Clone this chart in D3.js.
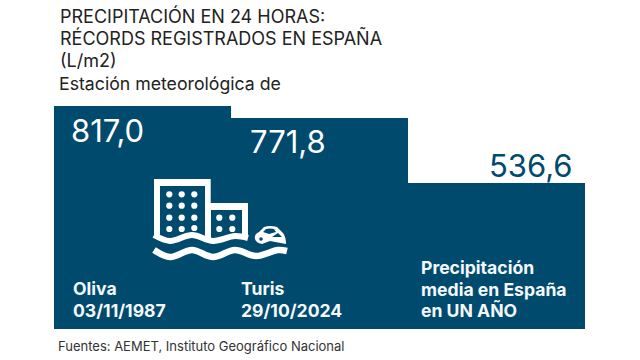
<!DOCTYPE html>
<html>
<head>
<meta charset="utf-8">
<script src="https://cdn.jsdelivr.net/npm/d3@7"></script>
<style>
  html, body { margin: 0; padding: 0; background: #fff; }
  text { font-family: Inter, "Noto Sans", sans-serif; }
</style>
</head>
<body>
<div id="plot-container"></div>
<script>
const places = ["Oliva", "Turis", "Media"];
const values = [817.0, 771.8, 536.6];
const valueLabels = ["817,0", "771,8", "536,6"];
const titleLines = ["PRECIPITACIÓN EN 24 HORAS:", "RÉCORDS REGISTRADOS EN ESPAÑA", "(L/m2)"];
const captions = [
    ["Oliva", "03/11/1987"],
    ["Turis", "29/10/2024"],
    ["Precipitación", "media en España", "en UN AÑO"]
];

const width = 640;
const height = 360;
const barColor = "#004a6d";
const textColor = "#222";

const svg = d3.select("#plot-container")
    .append("svg")
    .attr("width", width)
    .attr("height", height)
    .style("display", "block");

const x = d3.scaleBand()
    .domain(places)
    .range([54, 585]);

const y = d3.scaleLinear()
    .domain([0, 817])
    .range([329, 106]);

// bars touch each other, no padding
svg.selectAll("rect.bar")
    .data(values)
    .enter()
    .append("rect")
    .attr("class", "bar")
    .attr("x", (d, i) => x(places[i]))
    .attr("y", d => y(d))
    .attr("width", x.bandwidth())
    .attr("height", d => y(0) - y(d))
    .attr("fill", barColor)
    .attr("shape-rendering", "crispEdges");

// title
svg.selectAll("text.title")
    .data(titleLines)
    .enter()
    .append("text")
    .attr("class", "title")
    .attr("x", 60)
    .attr("y", (d, i) => 23 + i * 22)
    .attr("font-size", 18)
    .attr("fill", textColor)
    .text(d => d);

svg.append("text")
    .attr("x", 59)
    .attr("y", 90)
    .attr("font-size", 17.7)
    .attr("fill", textColor)
    .text("Estación meteorológica de");

// value labels
const valueX = [71, 250, 489];
const valueY = [142, 153, 177];
svg.selectAll("text.value")
    .data(valueLabels)
    .enter()
    .append("text")
    .attr("class", "value")
    .attr("x", (d, i) => valueX[i])
    .attr("y", (d, i) => valueY[i])
    .attr("font-size", 31)
    .attr("fill", (d, i) => i === 2 ? barColor : "#fff")
    .text(d => d);

// captions
const captionX = [73, 241, 421];
const captionY = [295, 295, 274];
captions.forEach((lines, i) => {
    svg.selectAll("text.caption" + i)
        .data(lines)
        .enter()
        .append("text")
        .attr("class", "caption" + i)
        .attr("x", captionX[i])
        .attr("y", (d, j) => captionY[i] + j * 21.5)
        .attr("font-size", 17.6)
        .attr("font-weight", 700)
        .attr("fill", "#f4f8fa")
        .text(d => d);
});

// source
svg.append("text")
    .attr("x", 58)
    .attr("y", 351)
    .attr("font-size", 13)
    .attr("fill", "#333")
    .text("Fuentes: AEMET, Instituto Geográfico Nacional");

// flood icon
const icon = svg.append("g");

icon.append("path")
    .attr("fill", "#fff")
    .attr("d", "M154,179 H210.7 V203 H248 V238 H242 V210 H211 V238 H205 V186 H160 V236 H154 Z");

const wave = d3.line().curve(d3.curveCatmullRom);

icon.append("path")
    .attr("fill", "none")
    .attr("stroke", "#fff")
    .attr("stroke-width", 6)
    .attr("d", wave([[154, 235], [170, 241], [192, 235], [213, 241], [235, 236], [248, 238]]));

icon.append("path")
    .attr("fill", "none")
    .attr("stroke", "#fff")
    .attr("stroke-width", 6.5)
    .attr("d", wave([[154, 250], [170, 257], [192, 250], [213, 257], [235, 250], [256, 256], [278, 250], [287, 251]]));

const iconDots = [
    [169.3, 194.3], [181.7, 194.3], [194.3, 194.3],
    [169.3, 205.7], [181.7, 205.7], [194.3, 205.7],
    [169.3, 217.7], [181.7, 217.7], [194.3, 217.7],
    [169.3, 229], [181.7, 229], [194.3, 228],
    [219.3, 217.7], [232.3, 217.7],
    [219.3, 229], [232.3, 229]
];
icon.selectAll("circle")
    .data(iconDots)
    .enter()
    .append("circle")
    .attr("cx", d => d[0])
    .attr("cy", d => d[1])
    .attr("r", 3.1)
    .attr("fill", "#fff");

// car
icon.append("path")
    .attr("fill", "#fff")
    .attr("d", "M255,239 Q254,234 259,232 L264,227 Q270,225 277,227 L283,233 Q286,237 286,244 L270,241 L262,244 Q256,243 255,239 Z");
icon.append("path")
    .attr("fill", barColor)
    .attr("d", "M263,232 L266,229 Q270,228 274,229 L276,232 L269,234 Z M278,233 L282,237 L272,237 Z");
icon.append("circle")
    .attr("cx", 261)
    .attr("cy", 239)
    .attr("r", 1.8)
    .attr("fill", barColor);
</script>
</body>
</html>
